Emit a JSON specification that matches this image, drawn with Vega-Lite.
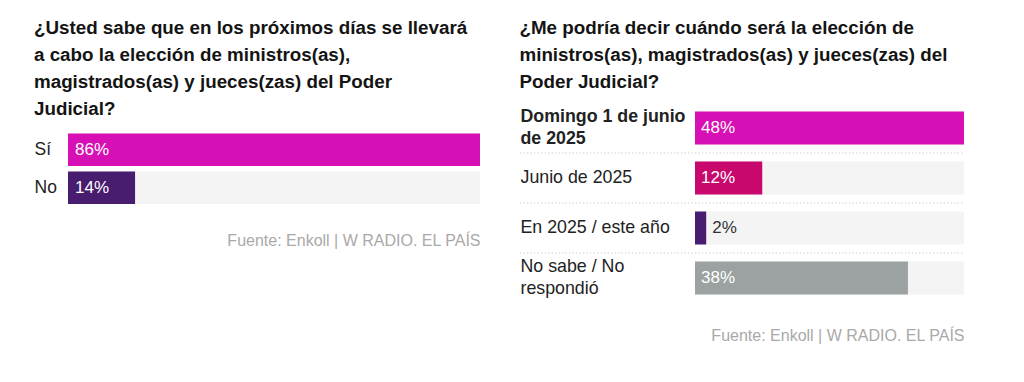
{
  "$schema": "https://vega.github.io/schema/vega-lite/v6.json",
  "background": "white",
  "padding": {"left": 34, "top": 19, "right": 10, "bottom": 10},
  "config": {"view": {"stroke": null}, "font": "Liberation Sans", "concat": {"spacing": 39}},
  "resolve": {"scale": {"color": "independent"}},
  "hconcat": [
    {
      "title": {
        "text": ["¿Usted sabe que en los próximos días se llevará", "a cabo la elección de ministros(as),", "magistrados(as) y jueces(zas) del Poder", "Judicial?"],
        "anchor": "start", "frame": "bounds", "fontSize": 18.8, "fontWeight": "bold", "lineHeight": 27, "color": "#141414", "offset": -16
      },
      "width": 412,
      "height": {"step": 38},
      "data": {"values": [
        {"respuesta": "Sí", "v": 0.86},
        {"respuesta": "No", "v": 0.14}
      ]},
      "encoding": {
        "y": {"field": "respuesta", "type": "nominal", "sort": null,
          "scale": {"paddingInner": 0.14, "paddingOuter": 0.4, "align": 1},
          "axis": {"title": null, "domain": false, "ticks": false, "tickSize": 0, "labelAlign": "left", "labelPadding": 34, "labelFontSize": 17.5, "labelColor": "#222222"}}
      },
      "layer": [
        {"mark": {"type": "bar", "color": "#f4f4f4"},
         "encoding": {"x": {"datum": 0.86, "type": "quantitative", "scale": {"domain": [0, 0.86], "nice": false},
           "axis": {"title": "Fuente: Enkoll | W RADIO. EL PAÍS", "titleAnchor": "end", "titleFontSize": 16, "titleFontWeight": "normal", "titleColor": "#a9a9a9", "titlePadding": 28, "labels": false, "ticks": false, "domain": false, "grid": false}}}},
        {"mark": {"type": "bar"},
         "encoding": {
           "x": {"field": "v", "type": "quantitative", "scale": {"domain": [0, 0.86], "nice": false}},
           "color": {"field": "respuesta", "type": "nominal", "scale": {"domain": ["Sí", "No"], "range": ["#d610b5", "#481c6e"]}, "legend": null}}},
        {"mark": {"type": "text", "align": "left", "dx": 7, "color": "white", "fontSize": 17},
         "encoding": {
           "x": {"datum": 0, "type": "quantitative", "scale": {"domain": [0, 0.86], "nice": false}},
           "text": {"field": "v", "type": "quantitative", "format": ".0%"}}}
      ]
    },
    {
      "title": {
        "text": ["¿Me podría decir cuándo será la elección de", "ministros(as), magistrados(as) y jueces(zas) del", "Poder Judicial?"],
        "anchor": "start", "frame": "bounds", "fontSize": 18.8, "fontWeight": "bold", "lineHeight": 27, "color": "#141414", "offset": 11
      },
      "width": 269,
      "height": {"step": 50},
      "data": {"values": [
        {"cat": "Domingo 1 de junio de 2025", "v": 0.48},
        {"cat": "Junio de 2025", "v": 0.12},
        {"cat": "En 2025 / este año", "v": 0.02},
        {"cat": "No sabe / No respondió", "v": 0.38}
      ]},
      "encoding": {
        "y": {"field": "cat", "type": "nominal", "sort": null,
          "scale": {"paddingInner": 0.34, "paddingOuter": 0.17},
          "axis": {"title": null, "domain": false, "ticks": false, "tickSize": 0, "labelAlign": "left", "labelPadding": 175, "labelFontSize": 17.8, "labelColor": "#222222", "labelLineHeight": 22, "labelLimit": 200,
            "labelExpr": "datum.value == 'Domingo 1 de junio de 2025' ? ['Domingo 1 de junio', 'de 2025'] : datum.value == 'No sabe / No respondió' ? ['No sabe / No', 'respondió'] : datum.label",
            "labelOffset": {"condition": {"test": "datum.value == 'Domingo 1 de junio de 2025' || datum.value == 'No sabe / No respondió'", "value": -11}, "value": 0},
            "labelFontWeight": {"condition": {"test": "datum.value == 'Domingo 1 de junio de 2025'", "value": "bold"}, "value": "normal"}}}
      },
      "layer": [
        {"mark": {"type": "bar", "color": "#f4f4f4"},
         "encoding": {"x": {"datum": 0.48, "type": "quantitative", "scale": {"domain": [0, 0.48], "nice": false},
           "axis": {"title": "Fuente: Enkoll | W RADIO. EL PAÍS", "titleAnchor": "end", "titleFontSize": 16, "titleFontWeight": "normal", "titleColor": "#a9a9a9", "titlePadding": 24, "labels": false, "ticks": false, "domain": false, "grid": false}}}},
        {"mark": {"type": "bar"},
         "encoding": {
           "x": {"field": "v", "type": "quantitative", "scale": {"domain": [0, 0.48], "nice": false}},
           "color": {"field": "cat", "type": "nominal", "scale": {"domain": ["Domingo 1 de junio de 2025", "Junio de 2025", "En 2025 / este año", "No sabe / No respondió"], "range": ["#d610b5", "#c8086c", "#481c6e", "#9ba2a1"]}, "legend": null}}},
        {"transform": [{"filter": "datum.v >= 0.05"}],
         "mark": {"type": "text", "align": "left", "dx": 6, "color": "white", "fontSize": 17},
         "encoding": {
           "x": {"datum": 0, "type": "quantitative", "scale": {"domain": [0, 0.48], "nice": false}},
           "text": {"field": "v", "type": "quantitative", "format": ".0%"}}},
        {"transform": [{"filter": "datum.v < 0.05"}],
         "mark": {"type": "text", "align": "left", "dx": 6, "color": "#333333", "fontSize": 17},
         "encoding": {
           "x": {"field": "v", "type": "quantitative", "scale": {"domain": [0, 0.48], "nice": false}},
           "text": {"field": "v", "type": "quantitative", "format": ".0%"}}},
        {"transform": [{"filter": "datum.cat != 'No sabe / No respondió'"}],
         "mark": {"type": "rule", "color": "#cfcfcf", "strokeWidth": 1, "strokeDash": [1.5, 2], "yOffset": 8.5},
         "encoding": {
           "x": {"datum": -0.3123, "type": "quantitative", "scale": {"domain": [0, 0.48], "nice": false}},
           "x2": {"datum": 0.48},
           "y": {"field": "cat", "type": "nominal", "sort": null, "bandPosition": 1}}}
      ]
    }
  ]
}
